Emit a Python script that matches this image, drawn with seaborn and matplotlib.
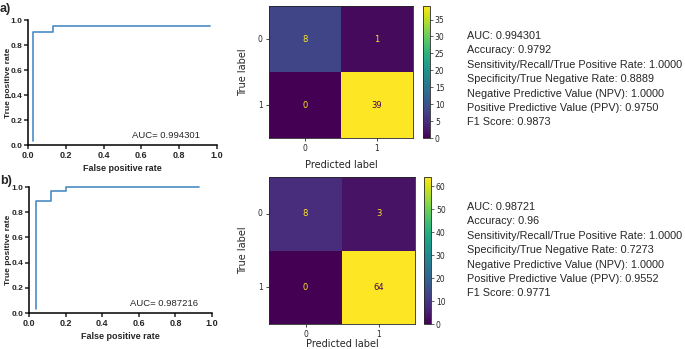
import matplotlib
matplotlib.use('Agg')
import matplotlib.pyplot as plt
import seaborn as sns
import numpy as np
import pandas as pd

# ROC curves
fpr_a = [0.025, 0.025, 0.13, 0.13, 0.965]
tpr_a = [0.03, 0.905, 0.905, 0.955, 0.955]
fpr_b = [0.038, 0.038, 0.12, 0.12, 0.2, 0.2, 0.93]
tpr_b = [0.03, 0.89, 0.89, 0.965, 0.965, 1.0, 1.0]
auc_a = '0.994301'
auc_b = '0.987216'

# confusion matrices
class_labels = ['0', '1']
cm_a = [[8, 1], [0, 39]]
cm_b = [[8, 3], [0, 64]]

metrics_a = ['AUC: 0.994301', 'Accuracy: 0.9792',
             'Sensitivity/Recall/True Positive Rate: 1.0000',
             'Specificity/True Negative Rate: 0.8889',
             'Negative Predictive Value (NPV): 1.0000',
             'Positive Predictive Value (PPV): 0.9750',
             'F1 Score: 0.9873']
metrics_b = ['AUC: 0.98721', 'Accuracy: 0.96',
             'Sensitivity/Recall/True Positive Rate: 1.0000',
             'Specificity/True Negative Rate: 0.7273',
             'Negative Predictive Value (NPV): 1.0000',
             'Positive Predictive Value (PPV): 0.9552',
             'F1 Score: 0.9771']

sns.set_style('white')
plt.rcParams['font.family'] = ['Liberation Sans', 'DejaVu Sans']

fig = plt.figure(figsize=(6.85, 3.49), dpi=100)

W, H = 685.0, 349.0
def box(l, t, r, b):
    return [l / W, 1 - b / H, (r - l) / W, (b - t) / H]


def roc_panel(l, t, r, b, fpr, tpr, auc):
    ax = fig.add_axes(box(l, t, r, b))
    sns.lineplot(x=fpr, y=tpr, sort=False, estimator=None, ax=ax,
                 color='#4a8cc4', linewidth=1.2)
    for ln in ax.lines:
        ln.set_clip_on(False)
    ax.set_xlim(0, 1)
    ax.set_ylim(0, 1)
    ticks = [0, 0.2, 0.4, 0.6, 0.8, 1.0]
    ax.set_xticks(ticks)
    ax.set_yticks(ticks)
    ax.set_xticklabels(['%.1f' % t for t in ticks], fontweight='bold', fontsize=6.5)
    ax.set_yticklabels(['%.1f' % t for t in ticks], fontweight='bold', fontsize=6)
    for s in ['top', 'right']:
        ax.spines[s].set_visible(False)
    for s in ['left', 'bottom']:
        ax.spines[s].set_linewidth(1.1)
        ax.spines[s].set_color('black')
    ax.tick_params(direction='out', length=3, width=1.1, pad=1, left=True, bottom=True)
    ax.set_xlabel('False positive rate', fontweight='bold', fontsize=6.5, labelpad=3)
    ax.set_ylabel('True positive rate', fontweight='bold', fontsize=6)
    # right edge of the rotated label at about 12 px from the figure edge
    ax.yaxis.set_label_coords((12 - l) / (r - l), 0.5)
    ax.text(0.55, 0.075, 'AUC= ' + auc, fontsize=6.8, va='center',
            transform=ax.transAxes)
    return ax


def cm_panel(rect, crect, cm, xlab_y):
    ax = fig.add_axes(rect)
    cax = fig.add_axes(crect)
    df = pd.DataFrame(cm, index=class_labels, columns=class_labels)
    vmax = df.values.max()
    sns.heatmap(df, ax=ax, cbar_ax=cax, cmap='viridis', vmin=0, vmax=vmax,
                annot=False)
    cmap = plt.get_cmap('viridis')
    for i in range(len(class_labels)):
        for j in range(len(class_labels)):
            v = df.values[i, j]
            c = cmap(1.0) if v < vmax / 2 else cmap(0.0)
            ax.text(j + 0.5, i + 0.5, str(v), ha='center', va='center',
                    fontsize=6, color=c, family='DejaVu Sans')
    for s in ax.spines.values():
        s.set_visible(True)
        s.set_linewidth(0.6)
    ax.tick_params(left=True, bottom=True, length=2.5, width=0.6, labelsize=5.5, pad=2)
    ax.set_yticklabels(class_labels, rotation=0, family='DejaVu Sans')
    ax.set_xticklabels(class_labels, family='DejaVu Sans')
    ax.set_xlabel('Predicted label', fontsize=7, family='DejaVu Sans')
    ax.xaxis.set_label_coords(0.5, xlab_y)
    ax.set_ylabel('True label', fontsize=7, family='DejaVu Sans', labelpad=7)
    cax.tick_params(labelsize=5.5, length=2, width=0.5, pad=1.5)
    for t in cax.get_yticklabels():
        t.set_family('DejaVu Sans')
    if 'outline' in cax.spines:
        cax.spines['outline'].set_linewidth(0.6)
    return ax


roc_panel(28, 20, 217, 145, fpr_a, tpr_a, auc_a)
roc_panel(29, 187, 212, 313, fpr_b, tpr_b, auc_b)
cm_panel(box(269, 6, 413, 138), box(423, 6, 430, 138), cm_a, -0.17)
cm_panel(box(269, 177, 415, 324), box(424, 177, 431, 324), cm_b, -0.1)

fig.text(0.0, 1 - 9 / H, 'a)', fontsize=9, fontweight='bold', va='center')
fig.text(0.0, 1 - 181 / H, 'b)', fontsize=9, fontweight='bold', va='center')

fig.text(467 / W, 1 - 31 / H, '\n'.join(metrics_a), fontsize=7.85, va='top',
         linespacing=1.55)
fig.text(467 / W, 1 - 202 / H, '\n'.join(metrics_b), fontsize=7.85, va='top',
         linespacing=1.55)

fig.savefig('out.png', dpi=100)
